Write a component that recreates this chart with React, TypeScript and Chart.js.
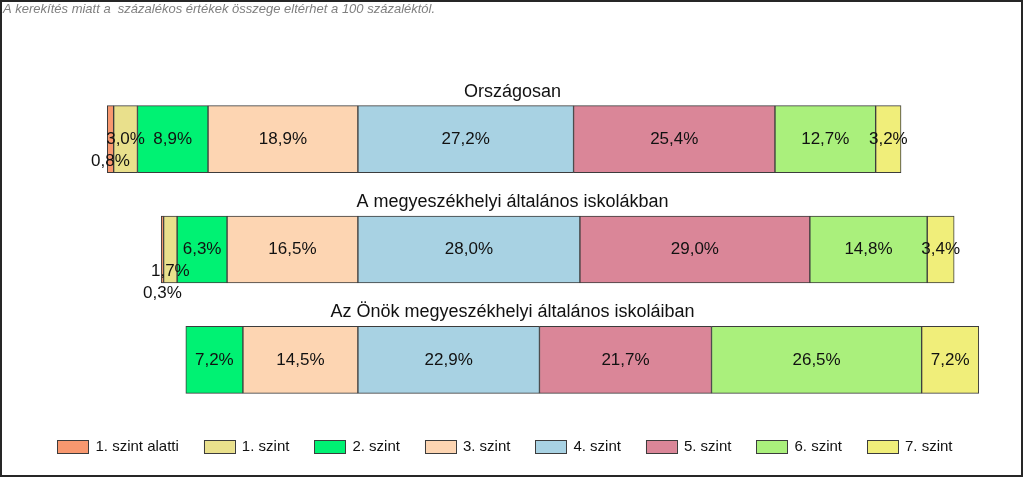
import React, { useEffect, useRef } from "react";
import { Chart, registerables } from "chart.js";

Chart.register(...registerables);

const categories = [
  "Országosan",
  "A megyeszékhelyi általános iskolákban",
  "Az Önök megyeszékhelyi általános iskoláiban",
];

const levelNames = [
  "1. szint alatti",
  "1. szint",
  "2. szint",
  "3. szint",
  "4. szint",
  "5. szint",
  "6. szint",
  "7. szint",
];

const levelColors = [
  "#F8986F",
  "#E9E08C",
  "#00F273",
  "#FDD5B2",
  "#A8D2E3",
  "#DA8698",
  "#AAF07C",
  "#F0EE7A",
];

// values per level, one per category
const szintAlatti: (number | null)[] = [0.8, 0.3, null];
const szint1: (number | null)[] = [3.0, 1.7, null];
const szint2: (number | null)[] = [8.9, 6.3, 7.2];
const szint3: (number | null)[] = [18.9, 16.5, 14.5];
const szint4: (number | null)[] = [27.2, 28.0, 22.9];
const szint5: (number | null)[] = [25.4, 29.0, 21.7];
const szint6: (number | null)[] = [12.7, 14.8, 26.5];
const szint7: (number | null)[] = [3.2, 3.4, 7.2];

const noteText =
  "A kerekítés miatt a  százalékos értékek összege eltérhet a 100 százaléktól.";

const allLevels = [szintAlatti, szint1, szint2, szint3, szint4, szint5, szint6, szint7];
// number of levels drawn to the left of the zero line (below 4. szint)
const leftCount = 4;

const FONT = "'Liberation Sans', Arial, sans-serif";

function buildDatasets() {
  const ranges: ([number, number] | null)[][] = allLevels.map(() => []);
  categories.forEach((_, ci) => {
    let start = 0;
    for (let l = 0; l < leftCount; l++) start -= allLevels[l][ci] || 0;
    let cur = start;
    allLevels.forEach((lv, l) => {
      const v = lv[ci];
      if (v === null || v === undefined) {
        ranges[l].push(null);
      } else {
        ranges[l].push([cur, cur + v]);
        cur += v;
      }
    });
  });
  return allLevels.map((lv, l) => ({
    label: levelNames[l],
    data: ranges[l] as any,
    rawValues: lv,
    backgroundColor: levelColors[l],
    borderColor: "#3c3c3c",
    borderWidth: 1,
    borderSkipped: false as any,
    grouped: false,
    barThickness: 67,
  }));
}

const decorPlugin = {
  id: "decor",
  beforeDraw(chart: any) {
    const ctx = chart.ctx;
    ctx.save();
    ctx.fillStyle = "#ffffff";
    ctx.fillRect(0, 0, chart.width, chart.height);
    ctx.restore();
  },
  afterDatasetsDraw(chart: any) {
    const ctx = chart.ctx;
    ctx.save();
    ctx.font = `17px ${FONT}`;
    ctx.fillStyle = "#111111";
    ctx.textAlign = "center";
    ctx.textBaseline = "middle";
    const nDs = chart.data.datasets.length;
    categories.forEach((_, ci) => {
      const labels: any[] = [];
      for (let d = 0; d < nDs; d++) {
        const ds: any = chart.data.datasets[d];
        const v = ds.rawValues[ci];
        if (v === null || v === undefined) continue;
        const el: any = chart.getDatasetMeta(d).data[ci];
        if (!el) continue;
        const p = el.getProps(["x", "base", "y"], true);
        const cx = (p.x + p.base) / 2;
        const text = v.toFixed(1).replace(".", ",") + "%";
        const w = ctx.measureText(text).width;
        labels.push({ cx, y: p.y, text, w, level: 0 });
      }
      labels.sort((a, b) => b.cx - a.cx);
      for (let i = 1; i < labels.length; i++) {
        const prev = labels[i - 1];
        const cur = labels[i];
        if (cur.cx + cur.w / 2 + 1 > prev.cx - prev.w / 2) cur.level = prev.level + 1;
      }
      labels.forEach((lb) => {
        ctx.fillText(lb.text, lb.cx, lb.y + lb.level * 22);
      });
    });
    ctx.restore();
  },
  afterDraw(chart: any) {
    const ctx = chart.ctx;
    ctx.save();
    // frame
    ctx.strokeStyle = "#262626";
    ctx.lineWidth = 2;
    ctx.strokeRect(1, 1, 1021, 475);
    // note
    ctx.font = `italic 13px ${FONT}`;
    ctx.fillStyle = "#7f7f7f";
    ctx.textAlign = "left";
    ctx.textBaseline = "alphabetic";
    ctx.fillText(noteText, 3, 13);
    // titles above each bar
    ctx.font = `18px ${FONT}`;
    ctx.fillStyle = "#111111";
    ctx.textAlign = "center";
    const meta = chart.getDatasetMeta(4);
    const area = chart.chartArea;
    categories.forEach((c, ci) => {
      const el: any = meta.data[ci];
      const p = el.getProps(["y", "height"], true);
      ctx.fillText(c, (area.left + area.right) / 2, p.y - p.height / 2 - 9);
    });
    // legend
    ctx.font = `15px ${FONT}`;
    ctx.textBaseline = "middle";
    ctx.textAlign = "left";
    const boxW = 31;
    const boxH = 13;
    const gap = 7;
    const pad = 25;
    const widths = levelNames.map((n) => boxW + gap + ctx.measureText(n).width);
    const total = widths.reduce((a, b) => a + b, 0) + pad * (widths.length - 1);
    let x = 505 - total / 2;
    const boxY = 440;
    levelNames.forEach((name, i) => {
      ctx.fillStyle = levelColors[i];
      ctx.fillRect(x, boxY, boxW, boxH);
      ctx.strokeStyle = "#3c3c3c";
      ctx.lineWidth = 1;
      ctx.strokeRect(Math.round(x) + 0.5, boxY + 0.5, boxW, boxH);
      ctx.fillStyle = "#111111";
      ctx.fillText(name, x + boxW + gap, boxY + 7);
      x += widths[i] + pad;
    });
    ctx.restore();
  },
};

export default function App() {
  const ref = useRef<HTMLCanvasElement | null>(null);
  useEffect(() => {
    if (!ref.current) return;
    const chart = new Chart(ref.current, {
      type: "bar",
      data: { labels: categories, datasets: buildDatasets() as any },
      options: {
        indexAxis: "y",
        responsive: false,
        animation: false,
        devicePixelRatio: 1,
        layout: { padding: { left: 9, right: 8, top: 84, bottom: 63 } },
        plugins: { legend: { display: false }, tooltip: { enabled: false }, title: { display: false } },
        scales: {
          x: { display: false, min: -44, max: 83 },
          y: { display: false },
        },
      },
      plugins: [decorPlugin],
    });
    return () => chart.destroy();
  }, []);
  return (
    <div style={{ position: "fixed", left: 0, top: 0, width: 1024, height: 478, background: "#fff" }}>
      <canvas ref={ref} width={1024} height={478} style={{ width: 1024, height: 478, display: "block" }} />
    </div>
  );
}
